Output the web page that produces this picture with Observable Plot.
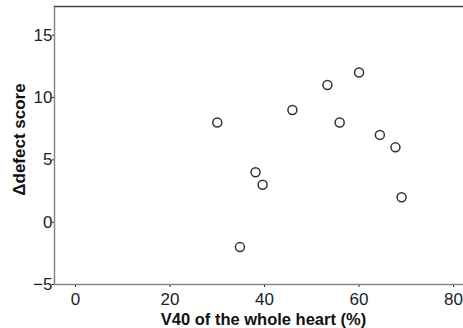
<!DOCTYPE html>
<html>
<head>
<meta charset="utf-8">
<script src="https://cdn.jsdelivr.net/npm/d3@7"></script>
<script src="https://cdn.jsdelivr.net/npm/@observablehq/plot@0.6"></script>
<style>
  html, body { margin: 0; padding: 0; background: #fff; overflow: hidden; }
  #chart svg { display: block; }
</style>
</head>
<body>
<div id="chart"></div>
<script>
// Data
const v40 = [30.0, 34.8, 38.1, 39.6, 45.9, 53.3, 55.9, 60.0, 64.4, 67.7, 69.0];
const deltaDefect = [8, -2, 4, 3, 9, 11, 8, 12, 7, 6, 2];
const xTicks = [0, 20, 40, 60, 80];
const yTicks = [-5, 0, 5, 10, 15];
const xDomain = [-4.44, 82.1];
const yDomain = [-5, 17.3];
const xLabel = "V40 of the whole heart (%)";
const yLabel = "\u0394defect score";

const points = v40.map((x, i) => ({x, y: deltaDefect[i]}));

const chart = Plot.plot({
  width: 463,
  height: 328,
  marginLeft: 54,
  marginRight: 0,
  marginTop: 6,
  marginBottom: 44,
  style: {
    fontFamily: "'Liberation Sans', Arial, sans-serif",
    fontSize: "17px",
    color: "#222",
    background: "#fff"
  },
  x: {domain: xDomain, ticks: xTicks, tickSize: 3, tickPadding: 5, label: null},
  y: {domain: yDomain, ticks: yTicks, tickSize: 2, tickPadding: 0, label: null},
  marks: [
    Plot.ruleX([xDomain[0]], {stroke: "#888", strokeWidth: 1.5}),
    Plot.ruleY([yDomain[0]], {stroke: "#888", strokeWidth: 1.5}),
    Plot.ruleY([yDomain[1]], {stroke: "#444", strokeWidth: 1.5}),
    Plot.dot(points, {x: "x", y: "y", r: 4.5, stroke: "#333", strokeWidth: 1.5, fill: "none"}),
    Plot.text([xLabel], {frameAnchor: "bottom", dy: 35.5, dx: 4.5, text: d => d, textAnchor: "middle", fontWeight: "bold", fontSize: 16.5, fill: "#111", lineAnchor: "middle"}),
    Plot.text([yLabel], {frameAnchor: "left", dx: -35, dy: -6, rotate: -90, text: d => d, textAnchor: "middle", fontWeight: "bold", fontSize: 17, fill: "#111", lineAnchor: "middle"})
  ]
});
document.getElementById("chart").appendChild(chart);
</script>
</body>
</html>
